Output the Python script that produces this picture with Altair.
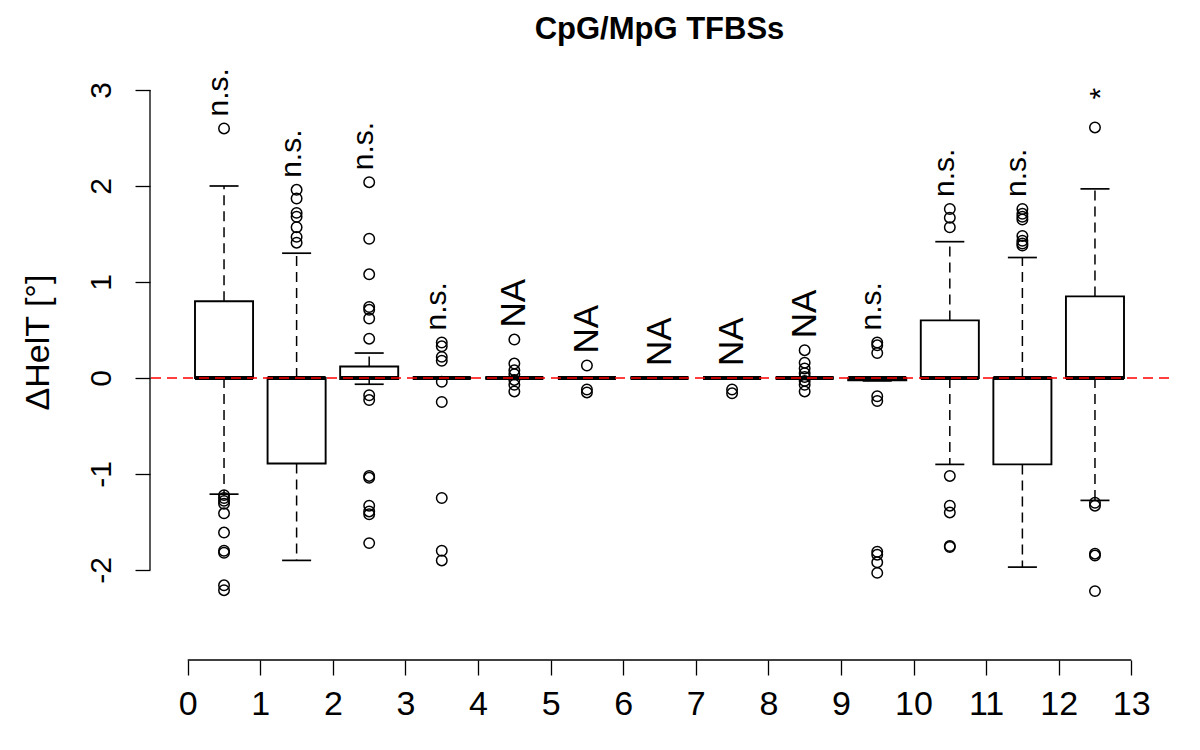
import altair as alt
import pandas as pd

FONT = "Liberation Sans"

# ---------------- data ----------------
positions = [0.5, 1.5, 2.5, 3.5, 4.5, 5.5, 6.5, 7.5, 8.5, 9.5, 10.5, 11.5, 12.5]
q1 = [0.0, -0.89, -0.01, 0.0, 0.0, 0.0, 0.0, 0.0, 0.0, -0.025, 0.0, -0.90, 0.0]
medians = [0.0, 0.0, 0.0, 0.0, 0.0, 0.0, 0.0, 0.0, 0.0, 0.0, 0.0, 0.0, 0.0]
q3 = [0.80, 0.0, 0.12, 0.0, 0.0, 0.0, 0.0, 0.0, 0.0, 0.0, 0.60, 0.0, 0.85]
whisk_lo = [-1.21, -1.90, -0.065, 0.0, 0.0, 0.0, 0.0, 0.0, 0.0, -0.03, -0.90, -1.97, -1.275]
whisk_hi = [2.00, 1.30, 0.26, 0.0, 0.0, 0.0, 0.0, 0.0, 0.0, 0.0, 1.42, 1.255, 1.97]
outliers = [
    [2.60, -1.22, -1.25, -1.28, -1.31, -1.41, -1.61, -1.80, -1.82, -2.16, -2.21],
    [1.96, 1.87, 1.72, 1.68, 1.57, 1.47, 1.41],
    [2.04, 1.45, 1.08, 0.74, 0.71, 0.62, 0.41, -0.18, -0.23, -1.02, -1.04, -1.33, -1.39, -1.42, -1.72],
    [0.37, 0.33, 0.22, 0.18, -0.04, -0.25, -1.25, -1.80, -1.90],
    [0.40, 0.15, 0.08, 0.04, -0.02, -0.07, -0.14],
    [0.13, -0.12, -0.15],
    [],
    [-0.12, -0.16],
    [0.29, 0.16, 0.10, 0.05, 0.01, -0.03, -0.07, -0.14],
    [0.37, 0.34, 0.26, -0.19, -0.24, -1.81, -1.84, -1.92, -2.03],
    [1.76, 1.67, 1.57, -1.02, -1.33, -1.40, -1.75, -1.76],
    [1.76, 1.71, 1.68, 1.65, 1.48, 1.43, 1.40, 1.38],
    [2.61, -1.30, -1.33, -1.83, -1.85, -2.22],
]
labels = ["n.s.", "n.s.", "n.s.", "n.s.", "NA", "NA", "NA", "NA", "NA",
          "n.s.", "n.s.", "n.s.", "*"]

x_ticks = list(range(0, 14))
y_ticks = [-2, -1, 0, 1, 2, 3]
x_domain = [-0.52, 13.52]
y_domain = [-2.9375, 3.3958]
title_text = "CpG/MpG TFBSs"
y_title = "ΔHelT [°]"

# ---------------- tables ----------------
box_df = pd.DataFrame({"pos": positions, "q1": q1, "med": medians, "q3": q3,
                       "wlo": whisk_lo, "whi": whisk_hi})

wrows = []
for p, a, b, lo, hi in zip(positions, q1, q3, whisk_lo, whisk_hi):
    if hi > b:
        wrows.append({"pos": p, "y1": b, "y2": hi, "end": hi})
    if lo < a:
        wrows.append({"pos": p, "y1": a, "y2": lo, "end": lo})
whisk_df = pd.DataFrame(wrows)

orows = []
for p, vals in zip(positions, outliers):
    for v in vals:
        orows.append({"pos": p, "value": v})
out_df = pd.DataFrame(orows)

lrows = []
for p, lab, hi, b, vals in zip(positions, labels, whisk_hi, q3, outliers):
    top = max([hi, b] + vals)
    lrows.append({"pos": p, "label": lab, "top": top})
lab_df = pd.DataFrame(lrows)

axis_df = pd.DataFrame({"xlo": [min(x_ticks)], "xhi": [max(x_ticks)],
                        "xleft": [x_domain[0]],
                        "ylo": [min(y_ticks)], "yhi": [max(y_ticks)],
                        "ybot": [y_domain[0]], "zero": [0.0]})

xscale = alt.Scale(domain=x_domain, nice=False, zero=False)
yscale = alt.Scale(domain=y_domain, nice=False, zero=False)

xaxis = alt.Axis(values=x_ticks, domain=False, grid=False, ticks=True, tickSize=15,
                 tickWidth=1.3, tickColor="black", labelFontSize=34, labelFont=FONT,
                 labelColor="black", labelPadding=39, labelBaseline="alphabetic",
                 labelAlign="center", title=None, labelFlush=False, labelOverlap=False)
yaxis = alt.Axis(values=y_ticks, domain=False, grid=False, ticks=True, tickSize=15,
                 tickWidth=1.3, tickColor="black", labelFontSize=30, labelFont=FONT,
                 labelColor="black", labelAngle=270, labelAlign="center",
                 labelBaseline="alphabetic", labelPadding=25, labelFlush=False,
                 labelOverlap=False, labelExpr="'' + datum.value",
                 title=y_title, titleFont=FONT, titleFontSize=34, titleFontWeight="normal",
                 titleColor="black", titleAngle=270, titleX=-112, titleY=290,
                 titleAlign="center", titleBaseline="middle")


def X(field):
    return alt.X(field, type="quantitative", scale=xscale, axis=xaxis)


def Y(field):
    return alt.Y(field, type="quantitative", scale=yscale, axis=yaxis)


# ---------------- layers ----------------
whiskers = alt.Chart(whisk_df).mark_rule(color="black", strokeWidth=1.5,
                                         strokeDash=[10, 6]).encode(
    x=X("pos"), y=Y("y1"), y2="y2:Q",
)

staples = alt.Chart(whisk_df).transform_calculate(
    xl="datum.pos - 0.2", xr="datum.pos + 0.2"
).mark_rule(color="black", strokeWidth=1.7).encode(
    x=X("xl"), x2="xr:Q", y=Y("end"),
)

boxes = alt.Chart(box_df).transform_calculate(
    xl="datum.pos - 0.4", xr="datum.pos + 0.4"
).mark_rect(fill="white", stroke="black", strokeWidth=1.9).encode(
    x=X("xl"), x2="xr:Q", y=Y("q1"), y2="q3:Q",
)

med = alt.Chart(box_df).transform_calculate(
    xl="datum.pos - 0.4", xr="datum.pos + 0.4"
).mark_rule(color="black", strokeWidth=4).encode(
    x=X("xl"), x2="xr:Q", y=Y("med"),
)

points = alt.Chart(out_df).mark_point(shape="circle", filled=False, size=110,
                                      stroke="black", strokeWidth=1.5, opacity=1).encode(
    x=X("pos"), y=Y("value"),
)

zero_line = alt.Chart(axis_df).mark_rule(color="red", strokeWidth=1.5,
                                         strokeDash=[10, 6]).encode(
    y=Y("zero"),
)

txt_ns = alt.Chart(lab_df).transform_filter("datum.label == 'n.s.'").mark_text(
    angle=270, align="left", baseline="middle", dx=12, dy=-5, fontSize=30,
    font=FONT, color="black").encode(
    x=X("pos"), y=Y("top"), text="label:N",
)
txt_na = alt.Chart(lab_df).transform_filter("datum.label == 'NA'").mark_text(
    angle=270, align="left", baseline="middle", dx=12, fontSize=35,
    font=FONT, color="black").encode(
    x=X("pos"), y=Y("top"), text="label:N",
)
txt_star = alt.Chart(lab_df).transform_filter("datum.label == '*'").mark_text(
    angle=270, align="left", baseline="middle", dx=28, dy=6, fontSize=30,
    font=FONT, color="black").encode(
    x=X("pos"), y=Y("top"), text="label:N",
)

y_axis_line = alt.Chart(axis_df).mark_rule(color="black", strokeWidth=1.3).encode(
    x=X("xleft"), y=Y("ylo"), y2="yhi:Q",
)

x_axis_line = alt.Chart(axis_df).mark_rule(color="black", strokeWidth=1.3).encode(
    x=X("xlo"), x2="xhi:Q", y=Y("ybot"),
)

chart = alt.layer(
    whiskers, staples, boxes, med, points, zero_line, txt_ns, txt_na, txt_star,
    y_axis_line, x_axis_line,
).properties(
    width=1019, height=608,
    title=alt.Title(title_text, fontSize=31, font=FONT, fontWeight="bold",
                    anchor="middle", baseline="alphabetic", offset=12, dy=30,
                    color="black", frame="group"),
    autosize=alt.AutoSizeParams(type="none"),
    padding={"left": 142, "top": 44, "right": 21, "bottom": 70},
    background="white",
).configure_view(stroke=None)

chart.save("out.html", embed_options={"renderer": "svg", "actions": False})
